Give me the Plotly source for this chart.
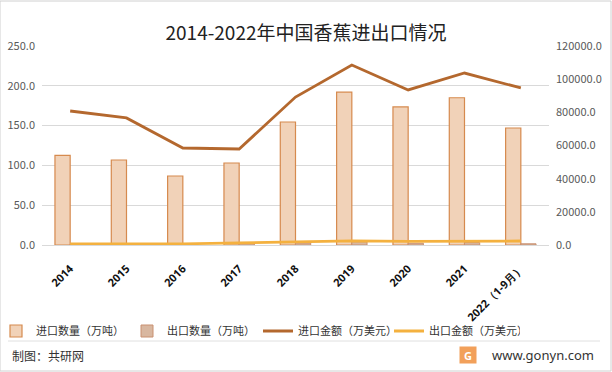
import plotly.graph_objects as go

categories = ["2014", "2015", "2016", "2017", "2018", "2019", "2020", "2021", "2022（1-9月）"]
import_qty = [112.7, 106.8, 86.7, 103.0, 154.5, 192.0, 173.5, 185.0, 147.0]
export_qty = [0.5, 0.6, 0.7, 2.5, 2.5, 4.0, 2.2, 3.0, 1.5]
import_val = [80800, 76600, 58500, 57900, 89200, 108500, 93500, 103700, 94700]
export_val = [600, 650, 700, 1300, 1800, 2500, 2200, 2300, 2400]

font_family = "Noto Sans CJK SC, Noto Sans, sans-serif"

fig = go.Figure()
fig.add_trace(go.Bar(x=categories, y=import_qty, name="进口数量（万吨）",
                     marker=dict(color="#F1D2B8", line=dict(color="#D68A4E", width=1.2))))
fig.add_trace(go.Bar(x=categories, y=export_qty, name="出口数量（万吨）",
                     marker=dict(color="#D8B7A0", line=dict(color="#C99070", width=1))))
fig.add_trace(go.Scatter(x=categories, y=import_val, name="进口金额（万美元）", mode="lines",
                         line=dict(color="#B4682E", width=2.8), yaxis="y2"))
fig.add_trace(go.Scatter(x=categories, y=export_val, name="出口金额（万美元）", mode="lines",
                         line=dict(color="#F4B13F", width=2.8), yaxis="y2"))

fig.update_layout(
    width=612, height=372,
    margin=dict(l=42, r=63, t=46, b=127, autoexpand=False),
    paper_bgcolor="white", plot_bgcolor="white",
    font=dict(family=font_family, color="#595959", size=11),
    barmode="group", bargap=0.46, bargroupgap=0.0,
    title=dict(text="2014-2022年中国香蕉进出口情况", x=0.5, xanchor="center", y=1-33/372, yanchor="middle",
               font=dict(size=19, color="#222222", family=font_family)),
    xaxis=dict(tickangle=-45, tickfont=dict(size=11, color="#111111", family="Noto Sans, sans-serif", weight="bold"),
               showline=True, linecolor="#D9D9D9", ticks="", showgrid=False, ticklabelstandoff=12,
               automargin=False),
    yaxis=dict(range=[0, 250], dtick=50, tickformat=".1f", gridcolor="#D9D9D9", gridwidth=1,
               zeroline=False, tickfont=dict(size=11, color="#595959"), ticklabelstandoff=6, automargin=False),
    yaxis2=dict(range=[0, 120000], dtick=20000, tickformat=".1f", overlaying="y", side="right",
                showgrid=False, zeroline=False, tickfont=dict(size=11, color="#595959"), ticklabelstandoff=6,
                automargin=False),
    legend=dict(orientation="h", x=(-4-42)/507, xanchor="left", y=(245-331)/199, yanchor="middle",
                font=dict(size=11, color="#333333"), entrywidth=86, entrywidthmode="pixels",
                traceorder="normal", tracegroupgap=0, itemwidth=30, bgcolor="rgba(0,0,0,0)"),
    showlegend=True,
)

shapes = [
    dict(type="rect", xref="paper", yref="paper", x0=-42/507, x1=(612-42-1)/507, y0=(245-371)/199, y1=(245-1)/199,
         line=dict(color="#D0D0D0", width=1), fillcolor="rgba(0,0,0,0)"),
    dict(type="line", xref="paper", yref="paper", x0=(8-42)/507, x1=(600-42)/507, y0=(245-341)/199, y1=(245-341)/199,
         line=dict(color="#E0E0E0", width=1)),
]
fig.update_layout(shapes=shapes)

fig.add_annotation(text="制图：共研网", xref="paper", yref="paper", x=(10-42)/507, y=(245-355)/199,
                   xanchor="left", yanchor="middle", showarrow=False,
                   font=dict(size=12, color="#333333", family=font_family))
fig.add_annotation(text="www.gonyn.com", xref="paper", yref="paper", x=(596-42)/507, y=(245-355)/199,
                   xanchor="right", yanchor="middle", showarrow=False,
                   font=dict(size=13, color="#333333", family="Noto Sans, sans-serif"))
fig.add_annotation(text="G", xref="paper", yref="paper", x=(468-42)/507, y=(245-355)/199,
                   xanchor="center", yanchor="middle", showarrow=False,
                   bgcolor="#F2A05A", font=dict(size=11, color="white", family="Noto Sans, sans-serif", weight="bold"),
                   width=14, height=14)

fig.write_html("out.html")
